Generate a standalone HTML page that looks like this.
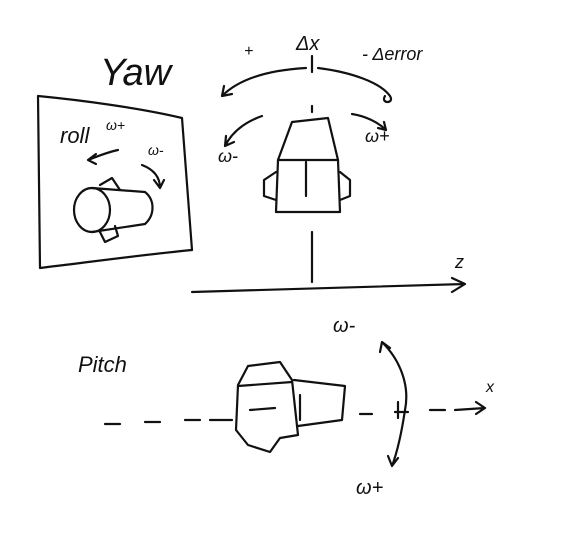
<!DOCTYPE html>
<html><head><meta charset="utf-8"><style>
html,body{margin:0;padding:0;background:#fff;width:573px;height:544px;overflow:hidden}
svg{display:block}
text{font-family:"Liberation Sans",sans-serif;fill:#111;font-style:italic}
path,line,circle,ellipse{stroke:#111;stroke-width:2.2;fill:none;stroke-linecap:round;stroke-linejoin:round}
</style></head><body>
<svg width="573" height="544" viewBox="0 0 573 544">
<!-- Yaw panel -->
<text x="100" y="85" font-size="38">Yaw</text>
<path d="M38 96 C80 100 140 108 182 118 L192 250 C140 255 90 262 40 268 L38 96"/>
<text x="60" y="143" font-size="22">roll</text>
<text x="106" y="130" font-size="14">ω+</text>
<text x="148" y="155" font-size="14">ω-</text>
<path d="M118 150 C108 152 98 156 88 160 M88 160 L96 154 M88 160 L96 164"/>
<path d="M142 165 C155 170 160 178 160 188 M160 188 L154 180 M160 188 L164 180"/>
<ellipse cx="92" cy="210" rx="18" ry="22"/>
<path d="M92 188 L145 192 C155 200 155 215 145 224 L92 232"/>
<path d="M100 185 L112 178 L120 190 M100 232 L105 242 L118 236 L115 226"/>
<!-- top -->
<text x="244" y="56" font-size="16">+</text>
<text x="296" y="50" font-size="20">Δx</text>
<text x="362" y="60" font-size="18">- Δerror</text>
<path d="M312 56 L312 72"/>
<path d="M306 68 C270 70 240 78 222 96 M222 96 L224 86 M222 96 L232 94"/>
<path d="M318 68 C350 72 380 82 390 96 C395 104 380 104 385 96"/>
<path d="M262 116 C245 122 232 132 225 146 M225 146 L226 136 M225 146 L234 142"/>
<text x="218" y="162" font-size="18">ω-</text>
<path d="M352 114 C365 116 378 122 386 130 M386 130 L378 128 M386 130 L384 122"/>
<text x="365" y="142" font-size="18">ω+</text>
<path d="M312 106 L312 112"/>
<path d="M292 122 L328 118 L338 160 L278 160 Z"/>
<path d="M278 160 L276 212 L340 212 L338 160 M306 162 L306 196"/>
<path d="M276 172 L264 180 L264 196 L276 200 M340 172 L350 180 L350 196 L340 200"/>
<path d="M312 232 L312 282"/>
<path d="M192 292 L465 284 M465 284 L452 278 M465 284 L452 292"/>
<text x="455" y="268" font-size="18">z</text>
<!-- Pitch -->
<text x="78" y="372" font-size="22">Pitch</text>
<path d="M105 424 L120 424 M145 422 L160 422 M185 420 L200 420 M210 420 L232 420 M360 414 L372 414 M395 412 L408 412 M430 410 L445 410 M455 410 L485 408 M485 408 L476 402 M485 408 L476 414"/>
<text x="486" y="392" font-size="16">x</text>
<path d="M248 366 L280 362 L292 380 L298 435 L280 438 L270 452 L248 445 L236 430 L238 385 Z"/>
<path d="M250 410 L275 408 M238 386 L292 382"/>
<path d="M294 380 L345 386 L342 420 L298 426 M300 395 L300 420"/>
<path d="M382 342 C400 360 410 385 405 410 C402 430 398 450 392 466 M392 466 L388 456 M392 466 L398 458 M382 342 L380 352 M382 342 L390 348"/>
<path d="M398 402 L398 418"/>
<text x="333" y="332" font-size="20">ω-</text>
<text x="356" y="494" font-size="20">ω+</text>
</svg>
</body></html>
